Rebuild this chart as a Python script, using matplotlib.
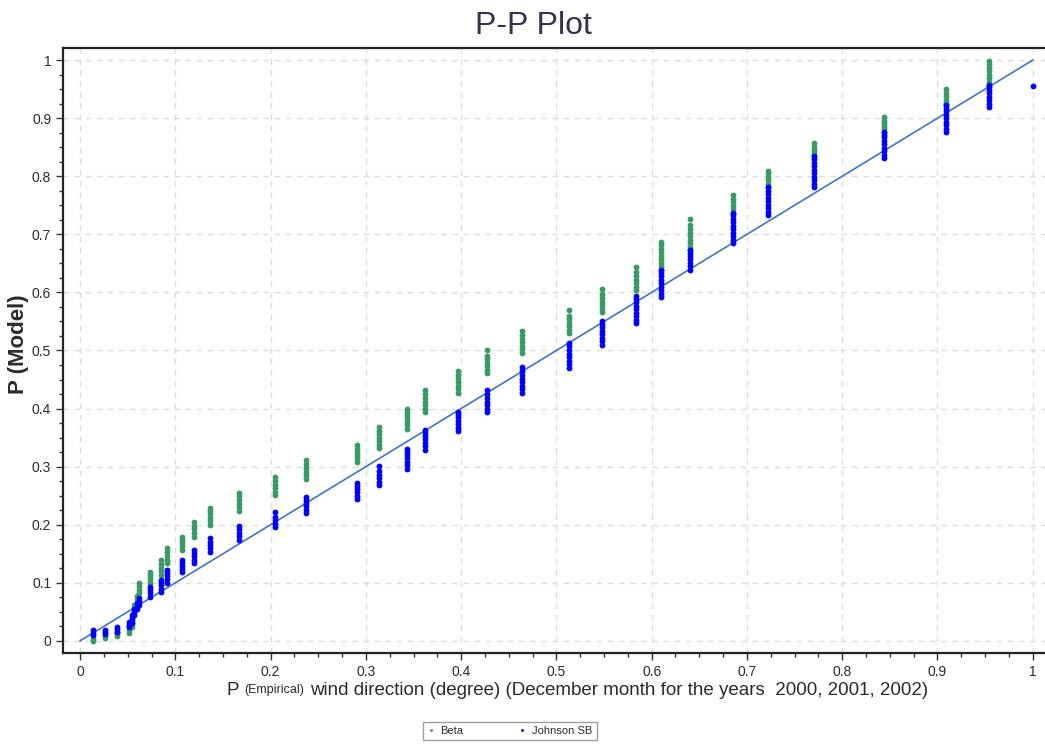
import numpy as np
import matplotlib
matplotlib.use("Agg")
import matplotlib.pyplot as plt
from matplotlib.ticker import MultipleLocator

plt.rcParams['font.family'] = ['Liberation Sans', 'DejaVu Sans']

# empirical probabilities (x position of each stack)
p_emp = [0.013, 0.026, 0.039, 0.051, 0.054, 0.057, 0.060, 0.062, 0.073, 0.085,
         0.091, 0.107, 0.119, 0.136, 0.167, 0.205, 0.237, 0.291, 0.314, 0.343,
         0.362, 0.397, 0.427, 0.464, 0.513, 0.548, 0.584, 0.610, 0.640, 0.685,
         0.722, 0.770, 0.844, 0.909, 0.954, 1.0]

# model probabilities, Beta fit
beta = [
    [0.000, 0.003],
    [0.004, 0.009],
    [0.008, 0.012, 0.016],
    [0.014, 0.019, 0.025],
    [0.024, 0.030],
    [0.050, 0.056, 0.062],
    [0.066, 0.072, 0.078],
    [0.082, 0.088, 0.094, 0.100],
    [0.097, 0.103, 0.109, 0.114, 0.119],
    [0.114, 0.120, 0.126, 0.132, 0.139],
    [0.134, 0.140, 0.146, 0.153, 0.160],
    [0.157, 0.163, 0.169, 0.174, 0.179],
    [0.179, 0.185, 0.192, 0.198, 0.205],
    [0.200, 0.206, 0.212, 0.218, 0.224, 0.229],
    [0.224, 0.230, 0.236, 0.242, 0.249, 0.255],
    [0.251, 0.257, 0.263, 0.269, 0.276, 0.282],
    [0.279, 0.285, 0.291, 0.297, 0.304, 0.312],
    [0.308, 0.314, 0.320, 0.326, 0.331, 0.337],
    [0.332, 0.338, 0.344, 0.350, 0.356, 0.362, 0.368],
    [0.365, 0.371, 0.377, 0.383, 0.389, 0.394, 0.399],
    [0.394, 0.400, 0.406, 0.412, 0.418, 0.425, 0.432],
    [0.427, 0.433, 0.439, 0.445, 0.452, 0.458, 0.465],
    [0.461, 0.467, 0.473, 0.479, 0.485, 0.491, 0.501],
    [0.496, 0.502, 0.508, 0.514, 0.520, 0.527, 0.534],
    [0.530, 0.536, 0.542, 0.548, 0.554, 0.560, 0.570],
    [0.566, 0.572, 0.578, 0.584, 0.590, 0.597, 0.606],
    [0.604, 0.610, 0.616, 0.622, 0.628, 0.636, 0.644],
    [0.639, 0.645, 0.651, 0.657, 0.663, 0.669, 0.675, 0.681, 0.687],
    [0.673, 0.679, 0.685, 0.691, 0.697, 0.703, 0.709, 0.717, 0.726],
    [0.737, 0.743, 0.749, 0.755, 0.761, 0.768],
    [0.781, 0.787, 0.793, 0.799, 0.805, 0.810],
    [0.835, 0.840, 0.845, 0.851, 0.857],
    [0.876, 0.881, 0.886, 0.891, 0.896, 0.902],
    [0.922, 0.927, 0.932, 0.938, 0.944, 0.950],
    [0.957, 0.963, 0.969, 0.975, 0.981, 0.987, 0.993, 0.998],
    [],
]

# model probabilities, Johnson SB fit
johnson = [
    [0.010, 0.014, 0.018],
    [0.011, 0.015, 0.019],
    [0.016, 0.020, 0.024],
    [0.024, 0.028, 0.033],
    [0.030, 0.035, 0.040, 0.045],
    [0.045, 0.050, 0.055],
    [0.055, 0.060, 0.065],
    [0.062, 0.068, 0.074],
    [0.076, 0.082, 0.088, 0.093],
    [0.084, 0.090, 0.096, 0.101, 0.105],
    [0.100, 0.106, 0.111, 0.116, 0.122],
    [0.119, 0.124, 0.129, 0.134, 0.139],
    [0.134, 0.140, 0.146, 0.151, 0.157],
    [0.153, 0.159, 0.165, 0.171, 0.177],
    [0.174, 0.180, 0.186, 0.192, 0.198],
    [0.196, 0.202, 0.208, 0.214, 0.222],
    [0.220, 0.226, 0.232, 0.238, 0.243, 0.248],
    [0.244, 0.250, 0.256, 0.262, 0.267, 0.272],
    [0.268, 0.274, 0.280, 0.286, 0.292, 0.301],
    [0.296, 0.302, 0.308, 0.314, 0.320, 0.326, 0.331],
    [0.329, 0.335, 0.341, 0.347, 0.353, 0.358, 0.363],
    [0.361, 0.367, 0.373, 0.379, 0.385, 0.390, 0.394],
    [0.394, 0.400, 0.406, 0.412, 0.418, 0.425, 0.432],
    [0.427, 0.433, 0.439, 0.445, 0.451, 0.457, 0.464, 0.472],
    [0.470, 0.476, 0.482, 0.488, 0.494, 0.500, 0.507, 0.513],
    [0.510, 0.516, 0.522, 0.528, 0.534, 0.540, 0.546, 0.550],
    [0.547, 0.553, 0.559, 0.565, 0.571, 0.577, 0.583, 0.589, 0.594],
    [0.592, 0.598, 0.604, 0.610, 0.616, 0.622, 0.628, 0.634, 0.639],
    [0.639, 0.645, 0.651, 0.657, 0.663, 0.668, 0.673],
    [0.685, 0.691, 0.697, 0.703, 0.709, 0.715, 0.721, 0.727, 0.733, 0.737],
    [0.733, 0.739, 0.745, 0.751, 0.757, 0.763, 0.769, 0.775, 0.781],
    [0.781, 0.787, 0.793, 0.799, 0.805, 0.811, 0.817, 0.823, 0.829, 0.835],
    [0.831, 0.837, 0.843, 0.849, 0.855, 0.861, 0.867, 0.872, 0.876],
    [0.876, 0.882, 0.888, 0.894, 0.900, 0.906, 0.912, 0.917, 0.922],
    [0.919, 0.925, 0.931, 0.937, 0.943, 0.949, 0.954, 0.957],
    [0.955],
]

text_col = '#2b2b2b'
green = '#3a9a64'
blue = '#0000ff'

fig = plt.figure(figsize=(10.45, 7.44), dpi=100)
ax = fig.add_axes([0.0603, 0.1223, 0.9397, 0.8132])

# flatten the stacks into x / y arrays
bx = [x for x, ys in zip(p_emp, beta) for _ in ys]
by = [y for ys in beta for y in ys]
jx = [x for x, ys in zip(p_emp, johnson) for _ in ys]
jy = [y for ys in johnson for y in ys]

ax.plot([0, 1], [0, 1], color='#3f74c9', lw=1.2, zorder=2)
ax.plot(bx, by, 'o', ms=4.2, mew=0, color=green, label='Beta', zorder=3)
ax.plot(jx, jy, 'o', ms=4.2, mew=0, color=blue, label='Johnson SB', zorder=4)

ax.set_xlim(-0.018, 1.013)
ax.set_ylim(-0.021, 1.021)
ax.xaxis.set_major_locator(MultipleLocator(0.1))
ax.yaxis.set_major_locator(MultipleLocator(0.1))
ax.xaxis.set_minor_locator(MultipleLocator(0.025))
ax.yaxis.set_minor_locator(MultipleLocator(0.025))
ax.xaxis.set_major_formatter(lambda v, p: f'{v:g}')
ax.yaxis.set_major_formatter(lambda v, p: f'{v:g}')
ax.grid(True, which='major', color='#dcdcdc', ls=(0, (4, 4)), lw=1)
ax.tick_params(which='major', length=5, width=1, colors='#333333',
               labelcolor=text_col, labelsize=10, direction='out')
ax.tick_params(which='minor', length=3, width=1, colors='#333333', direction='out')
ax.tick_params(top=False, right=False, which='both')
for s in ['left', 'bottom', 'top']:
    ax.spines[s].set_linewidth(1.6)
    ax.spines[s].set_color('#222222')
ax.spines['right'].set_visible(False)

fig.text(0.51, 0.965, 'P-P Plot', ha='center', va='center', fontsize=23, color='#33334a')
fig.text(0.018, 0.537, 'P (Model)', ha='center', va='center', rotation=90,
         fontsize=16, fontweight='bold', color=text_col)

# x label with a smaller "(Empirical)" part
fig.canvas.draw()
r = fig.canvas.get_renderer()
W = fig.bbox.width
ly = 0.072
t1 = fig.text(0.217, ly, 'P ', fontsize=13.5, color=text_col, va='center')
x1 = t1.get_window_extent(r).x1 / W
t2 = fig.text(x1, ly, '(Empirical)', fontsize=9, color=text_col, va='center')
x2 = t2.get_window_extent(r).x1 / W
fig.text(x2 + 0.006, ly,
         'wind direction (degree) (December month for the years  2000, 2001, 2002)',
         fontsize=13.5, color=text_col, va='center')

leg = fig.legend(loc='center', bbox_to_anchor=(0.488, 0.0175), ncol=2, fontsize=8,
                 frameon=True, fancybox=False, markerscale=0.5, handlelength=0.6,
                 columnspacing=5, borderpad=0.4, handletextpad=0.6)
leg.get_frame().set_edgecolor('#888888')
leg.get_frame().set_linewidth(1)
for t in leg.get_texts():
    t.set_color(text_col)

fig.savefig('out.png', dpi=100)
